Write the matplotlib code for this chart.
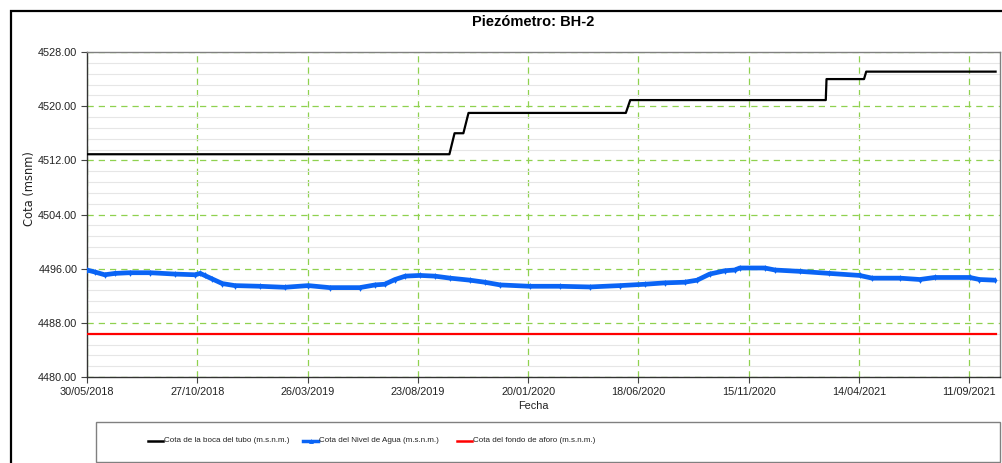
import matplotlib
matplotlib.use("Agg")
import matplotlib.pyplot as plt
from matplotlib.patches import Rectangle
from matplotlib.lines import Line2D
import pandas as pd
import numpy as np

# ---------------- data ----------------
boca_dates = ["2018-05-30", "2019-10-05", "2019-10-12", "2019-10-24", "2019-10-31",
              "2020-06-01", "2020-06-07", "2021-02-28", "2021-03-01", "2021-04-21",
              "2021-04-24", "2021-10-17"]
boca_vals = [4512.9, 4512.9, 4516.0, 4516.0, 4519.0,
             4519.0, 4520.9, 4520.9, 4524.0, 4524.0,
             4525.1, 4525.1]

nivel_dates = ["2018-05-30", "2018-06-10", "2018-06-23", "2018-07-07", "2018-07-27",
               "2018-08-24", "2018-09-27", "2018-10-24", "2018-10-31", "2018-11-06",
               "2018-11-16", "2018-11-30", "2018-12-17", "2019-01-20", "2019-02-23",
               "2019-03-27", "2019-04-25", "2019-06-05", "2019-06-26", "2019-07-09",
               "2019-07-23", "2019-08-06", "2019-08-26", "2019-09-15", "2019-10-06",
               "2019-11-02", "2019-11-22", "2019-12-13", "2020-01-22", "2020-03-03",
               "2020-04-13", "2020-05-24", "2020-06-27", "2020-07-24", "2020-08-20",
               "2020-09-06", "2020-09-23", "2020-10-14", "2020-10-27", "2020-11-03",
               "2020-12-07", "2020-12-21", "2021-01-24", "2021-03-05", "2021-04-15",
               "2021-05-02", "2021-06-09", "2021-07-06", "2021-07-26", "2021-09-12",
               "2021-09-25", "2021-10-16"]
nivel_vals = [4495.8, 4495.5, 4495.1, 4495.3, 4495.4,
              4495.4, 4495.2, 4495.1, 4495.3, 4495.0,
              4494.5, 4493.8, 4493.5, 4493.4, 4493.25,
              4493.5, 4493.2, 4493.2, 4493.6, 4493.7,
              4494.4, 4494.9, 4495.0, 4494.9, 4494.6,
              4494.3, 4494.0, 4493.6, 4493.4, 4493.4,
              4493.3, 4493.5, 4493.7, 4493.9, 4494.0,
              4494.3, 4495.2, 4495.7, 4495.8, 4496.1,
              4496.1, 4495.8, 4495.6, 4495.3, 4495.0,
              4494.6, 4494.6, 4494.4, 4494.7, 4494.7,
              4494.4, 4494.3]

fondo_dates = ["2018-05-30", "2021-10-17"]
fondo_vals = [4486.4, 4486.4]

xtick_labels = ["30/05/2018", "27/10/2018", "26/03/2019", "23/08/2019", "20/01/2020",
                "18/06/2020", "15/11/2020", "14/04/2021", "11/09/2021"]
yticks = [4480.0, 4488.0, 4496.0, 4504.0, 4512.0, 4520.0, 4528.0]

series_labels = ["Cota de la boca del tubo (m.s.n.m.)",
                 "Cota del Nivel de Agua (m.s.n.m.)",
                 "Cota del fondo de aforo (m.s.n.m.)"]
series_colors = ["black", "#0a64f5", "#ff0000"]

# ---------------- figure ----------------
FONT = "Liberation Sans"
TXT = "#222222"
W, H = 1002, 463
fig = plt.figure(figsize=(W / 100, H / 100), dpi=100)
ax = fig.add_axes([87 / W, 1 - 377 / H, (1000 - 87) / W, (377 - 52) / H])

bd = pd.to_datetime(boca_dates)
nd = pd.to_datetime(nivel_dates)
fd = pd.to_datetime(fondo_dates)

ax.plot(bd, boca_vals, color=series_colors[0], lw=1.6, zorder=4)
ax.plot(nd, nivel_vals, color=series_colors[1], lw=3.4, marker="d", ms=3.4, mew=0,
        solid_capstyle="butt", zorder=5)
ax.plot(fd, fondo_vals, color=series_colors[2], lw=1.6, zorder=4)

ax.set_ylim(4480, 4528)
ax.set_yticks(yticks)
ax.set_yticklabels([f"{v:.2f}" for v in yticks], fontsize=7.8, family=FONT, color=TXT)
ax.set_yticks(np.arange(4480, 4528.01, 1.6), minor=True)
ax.tick_params(axis="y", which="minor", length=0)

xt = pd.to_datetime(xtick_labels, format="%d/%m/%Y")
ax.set_xlim(pd.Timestamp("2018-05-30"), pd.Timestamp("2021-10-23"))
ax.set_xticks(xt)
ax.set_xticklabels(xtick_labels, fontsize=7.8, family=FONT, color=TXT)
ax.tick_params(axis="both", which="major", length=4, width=0.8, color="#444444",
               direction="out", pad=3)

ax.grid(which="minor", axis="y", color="#e6e6e6", lw=0.8, zorder=0)
ax.grid(which="major", axis="both", color="#8fd14f", lw=0.9, ls=(0, (5, 4)), zorder=1)

for s in ["left", "bottom"]:
    ax.spines[s].set_color("#333333")
    ax.spines[s].set_linewidth(1.0)
for s in ["top", "right"]:
    ax.spines[s].set_color("#808080")
    ax.spines[s].set_linewidth(1.0)

# labels
fig.text(533 / W, 1 - 22 / H, "Piezómetro: BH-2", ha="center", va="center",
         fontsize=10.5, fontweight="bold", family=FONT)
fig.text(30 / W, 1 - 189 / H, "Cota (msnm)", ha="center", va="center", rotation=90,
         fontsize=8.3, color=TXT, family="DejaVu Sans")
fig.text(533 / W, 1 - 406 / H, "Fecha", ha="center", va="center", fontsize=7.8,
         family=FONT, color=TXT)

# outer frame
fig.patches.append(Rectangle((11 / W, -0.1), 1.2, 1 - 11 / H + 0.1, transform=fig.transFigure,
                             fill=False, edgecolor="black", lw=1.6, zorder=10))

# legend box and entries
fig.patches.append(Rectangle((96 / W, 1 - 462 / H), (1000 - 96) / W, 40 / H,
                             transform=fig.transFigure, fill=False, edgecolor="#808080",
                             lw=1.0, zorder=10))
leg_x = [148, 303, 457]
leg_y = 1 - 441 / H
for i, (lx, lab, col) in enumerate(zip(leg_x, series_labels, series_colors)):
    lw = 2.5 if i == 1 else 1.8
    fig.lines.append(Line2D([lx / W, (lx + 15) / W], [leg_y, leg_y], color=col, lw=lw,
                            transform=fig.transFigure))
    if i == 1:
        fig.lines.append(Line2D([(lx + 7.5) / W], [leg_y], color=col, marker="^", ms=3.5,
                                mew=0, transform=fig.transFigure))
    fig.text((lx + 16) / W, leg_y, lab, ha="left", va="center", fontsize=5.8,
             family=FONT, color=TXT)

fig.savefig("out.png", dpi=100)
